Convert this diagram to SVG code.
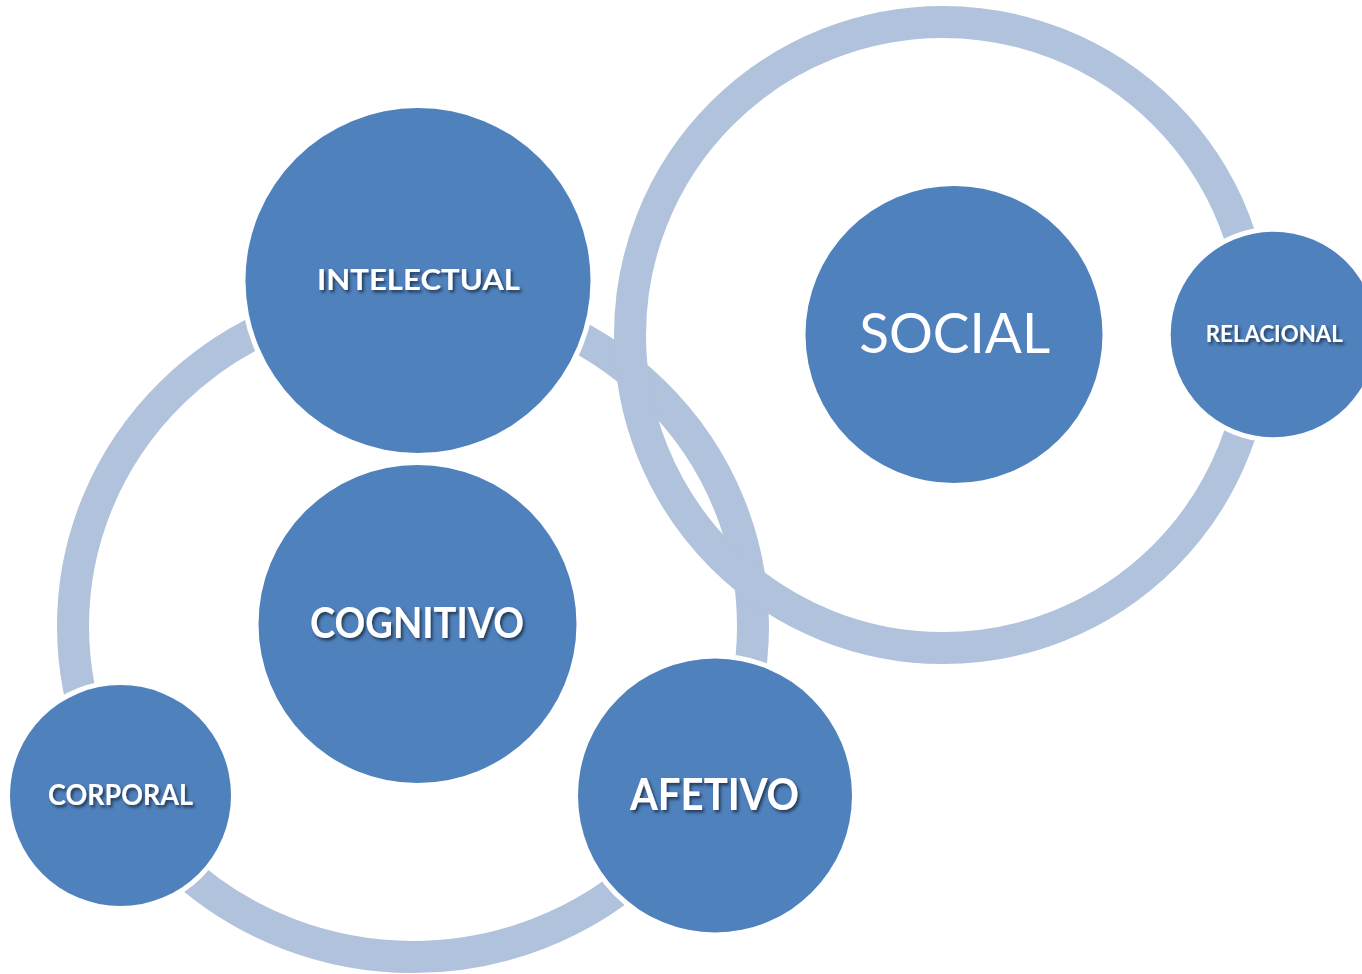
<svg xmlns="http://www.w3.org/2000/svg" width="1362" height="974" viewBox="0 0 1362 974">
<defs>
<filter id="sh" x="-20%" y="-40%" width="140%" height="180%">
<feDropShadow dx="2" dy="2.5" stdDeviation="1.6" flood-color="#000" flood-opacity="0.55"/>
</filter>
</defs>
<style>
.ring{fill:none;stroke:#B1C2DD;stroke-width:32}
.node{fill:#4F81BD;stroke:#FFFFFF;stroke-width:10;paint-order:stroke}
.lbl{fill:#FFFFFF;font-family:Lato,"Liberation Sans",sans-serif;font-weight:bold;text-anchor:middle;filter:url(#sh)}
.lbl2{fill:#FFFFFF;font-family:Lato,"Liberation Sans",sans-serif;font-weight:normal;text-anchor:middle}
</style>
<rect width="1362" height="974" fill="#FFFFFF"/>
<g id="connectors">
<ellipse class="ring" cx="413" cy="626" rx="340" ry="331"/>
<circle class="ring" cx="943" cy="335" r="313" stroke-width="31"/>
</g>
<g id="intelectual">
<circle class="node" cx="418" cy="280.5" r="172.5"/>
<text class="lbl" x="418.5" y="289.5" font-size="29" textLength="203" lengthAdjust="spacingAndGlyphs">INTELECTUAL</text>
</g>
<g id="cognitivo">
<circle class="node" cx="417.5" cy="624" r="159"/>
<text class="lbl" x="417" y="638" font-size="42" textLength="214" lengthAdjust="spacingAndGlyphs">COGNITIVO</text>
</g>
<g id="corporal">
<circle class="node" cx="120.5" cy="795.5" r="110.5"/>
<text class="lbl" x="120.5" y="805" font-size="29" textLength="145" lengthAdjust="spacingAndGlyphs">CORPORAL</text>
</g>
<g id="afetivo">
<circle class="node" cx="715" cy="795.5" r="137"/>
<text class="lbl" x="714.5" y="810" font-size="43" textLength="169" lengthAdjust="spacingAndGlyphs">AFETIVO</text>
</g>
<g id="social">
<circle class="node" cx="954" cy="334.5" r="148.5"/>
<text class="lbl2" x="954.7" y="352.7" font-size="57" textLength="191" lengthAdjust="spacingAndGlyphs">SOCIAL</text>
</g>
<g id="relacional">
<circle class="node" cx="1273.5" cy="334.5" r="102.8"/>
<text class="lbl" x="1274.3" y="341.7" font-size="22" textLength="137" lengthAdjust="spacingAndGlyphs">RELACIONAL</text>
</g>
</svg>
